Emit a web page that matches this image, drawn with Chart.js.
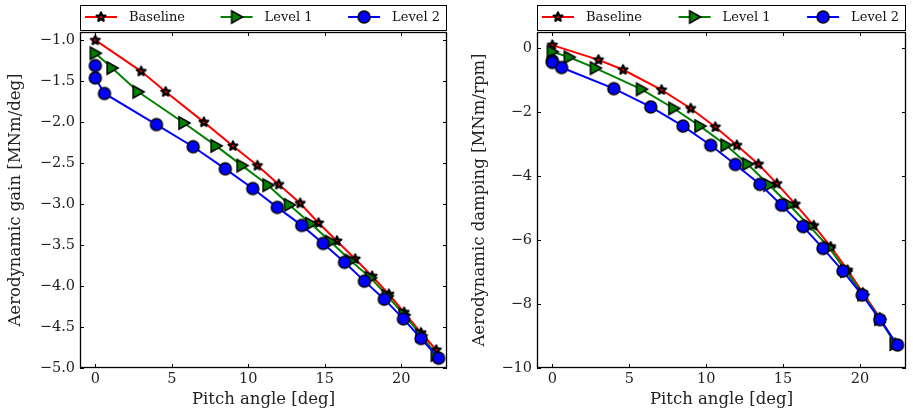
<!DOCTYPE html>
<html>
<head>
<meta charset="utf-8">
<script src="https://cdn.jsdelivr.net/npm/chart.js@4.4.1/dist/chart.umd.min.js"></script>
<style>
  body { margin: 0; width: 913px; height: 413px; overflow: hidden; background: #fff; position: relative; }
  canvas { position: absolute; top: 0; }
  #gainChart { left: 0; }
  #dampChart { left: 455px; }
</style>
</head>
<body>
<canvas id="gainChart" width="455" height="413"></canvas>
<canvas id="dampChart" width="459" height="413"></canvas>
<script>
// pitch angles [deg] per configuration
const pitchBaseline = [0, 3.0, 4.6, 7.1, 9.0, 10.6, 12.0, 13.4, 14.6, 15.8, 17.0, 18.1, 19.2, 20.2, 21.3, 22.3];
const pitchLevel1 = [0, 1.1, 2.8, 5.8, 7.9, 9.6, 11.3, 12.7, 14.1, 15.4, 16.7, 18.0, 19.1, 20.2, 21.3, 22.3];
const pitchLevel2 = [0, 0, 0.6, 4.0, 6.4, 8.5, 10.3, 11.9, 13.5, 14.9, 16.3, 17.6, 18.9, 20.15, 21.3, 22.45];

// aerodynamic gain [MNm/deg]
const gainBaseline = [-1.0, -1.38, -1.63, -2.0, -2.29, -2.53, -2.76, -2.99, -3.23, -3.45, -3.67, -3.88, -4.10, -4.32, -4.57, -4.78];
const gainLevel1 = [-1.16, -1.34, -1.63, -2.01, -2.29, -2.53, -2.77, -3.01, -3.24, -3.46, -3.69, -3.90, -4.12, -4.35, -4.60, -4.84];
const gainLevel2 = [-1.31, -1.46, -1.65, -2.03, -2.30, -2.57, -2.81, -3.04, -3.26, -3.48, -3.71, -3.94, -4.16, -4.40, -4.64, -4.88];

// aerodynamic damping [MNm/rpm]
const dampBaseline = [0.09, -0.37, -0.68, -1.31, -1.89, -2.47, -3.04, -3.63, -4.24, -4.88, -5.55, -6.21, -6.94, -7.65, -8.43, -9.22];
const dampLevel1 = [-0.12, -0.29, -0.63, -1.29, -1.89, -2.44, -3.04, -3.63, -4.28, -4.90, -5.56, -6.24, -6.97, -7.70, -8.47, -9.25];
const dampLevel2 = [-0.40, -0.45, -0.61, -1.27, -1.84, -2.44, -3.04, -3.64, -4.26, -4.91, -5.58, -6.26, -6.97, -7.72, -8.49, -9.28];

const seriesLabels = ['Baseline', 'Level 1', 'Level 2'];
const pitchTicks = [0, 5, 10, 15, 20];
const gainTicks = [-5.0, -4.5, -4.0, -3.5, -3.0, -2.5, -2.0, -1.5, -1.0];
const dampTicks = [-10, -8, -6, -4, -2, 0];

const FONT = '"DejaVu Serif", serif';

// matplotlib-like markers drawn once into small canvases
function makeMarker(kind, fill) {
    const c = document.createElement('canvas');
    c.width = 18; c.height = 18;
    const g = c.getContext('2d');
    g.translate(9, 9);
    g.fillStyle = fill;
    g.strokeStyle = '#000';
    g.lineWidth = 1.5;
    g.beginPath();
    if (kind === 'star') {
        g.lineWidth = 2.2;
        g.lineJoin = 'round';
        for (let i = 0; i < 10; i++) {
            const r = i % 2 ? 2.0 : 4.6;
            const a = -Math.PI / 2 + i * Math.PI / 5;
            g.lineTo(r * Math.cos(a), r * Math.sin(a));
        }
    } else if (kind === 'tri') {
        g.moveTo(6, 0); g.lineTo(-5, -6.2); g.lineTo(-5, 6.2);
    } else {
        g.arc(0, 0, 6, 0, Math.PI * 2);
    }
    g.closePath();
    g.fill();
    g.stroke();
    return c;
}
const markers = [makeMarker('star', '#ff0000'), makeMarker('tri', '#008000'), makeMarker('circle', '#0000ff')];
const colors = ['#ff0000', '#008000', '#0000ff'];

function toPoints(xs, ys) {
    return xs.map((x, i) => ({x: x, y: ys[i]}));
}

function fmt(v, dec) {
    return (v < 0 ? '\u2212' : '') + Math.abs(v).toFixed(dec);
}

// frame, inward ticks on all four sides and the boxed legend
const matplotlibLook = {
    id: 'matplotlibLook',
    afterDraw(chart) {
        const {ctx, chartArea: a, scales} = chart;
        ctx.save();
        ctx.strokeStyle = '#000';
        ctx.lineWidth = 1;
        const seg = (x1, y1, x2, y2) => { ctx.beginPath(); ctx.moveTo(x1, y1); ctx.lineTo(x2, y2); ctx.stroke(); };
        scales.x.ticks.forEach(t => {
            const px = Math.round(scales.x.getPixelForValue(t.value)) + 0.5;
            seg(px, a.bottom, px, a.bottom - 4);
            seg(px, a.top, px, a.top + 4);
        });
        scales.y.ticks.forEach(t => {
            const py = Math.round(scales.y.getPixelForValue(t.value)) + 0.5;
            seg(a.left, py, a.left + 4, py);
            seg(a.right, py, a.right - 4, py);
        });
        ctx.lineWidth = 1.3;
        ctx.strokeRect(a.left + 0.5, a.top + 0.5, a.right - a.left - 1, a.bottom - a.top - 1);

        // legend
        const top = 5, bottom = 30, mid = 17;
        ctx.lineWidth = 1;
        ctx.strokeRect(a.left + 0.5, top + 0.5, a.right - a.left - 1, bottom - top);
        ctx.font = '13px ' + FONT;
        ctx.textBaseline = 'middle';
        const items = chart.data.datasets.map(ds => ({ds: ds, w: 32 + 12 + ctx.measureText(ds.label).width}));
        const inner = a.right - a.left - 12;
        const gap = (inner - items.reduce((s, it) => s + it.w, 0)) / (items.length - 1);
        let x = a.left + 5;
        items.forEach(({ds, w}) => {
            ctx.strokeStyle = ds.borderColor;
            ctx.lineWidth = 2;
            seg(x, mid, x + 32, mid);
            const m = ds.pointStyle;
            ctx.drawImage(m, x + 16 - m.width / 2, mid - m.height / 2);
            ctx.fillStyle = '#111';
            ctx.fillText(ds.label, x + 44, mid + 1);
            x += w + gap;
        });
        ctx.restore();
    }
};

function makeChart(id, yTitle, ys, yMin, yMax, yTicks, yDec, yWidth, padRight, titlePad) {
    const pitches = [pitchBaseline, pitchLevel1, pitchLevel2];
    const datasets = ys.map((vals, i) => ({
        label: seriesLabels[i],
        data: toPoints(pitches[i], vals),
        borderColor: colors[i],
        borderWidth: 2,
        pointStyle: markers[i],
        pointRadius: 6,
        tension: 0,
        fill: false,
        order: 3 - i,
        clip: false
    }));
    return new Chart(document.getElementById(id).getContext('2d'), {
        type: 'line',
        data: {datasets: datasets},
        options: {
            responsive: false,
            animation: false,
            events: [],
            layout: {padding: {top: 32, right: padRight, left: 0, bottom: 0}},
            plugins: {legend: {display: false}, tooltip: {enabled: false}},
            scales: {
                x: {
                    type: 'linear',
                    min: -1,
                    max: 23,
                    grid: {display: false, drawTicks: false},
                    border: {display: false},
                    afterBuildTicks: s => { s.ticks = pitchTicks.map(v => ({value: v})); },
                    afterFit: s => { s.height = 45; },
                    ticks: {color: '#222', padding: 3, font: {family: FONT, size: 14.5}, callback: v => fmt(v, 0)},
                    title: {display: true, text: 'Pitch angle [deg]', color: '#222', font: {family: FONT, size: 16.5}, padding: {top: 0, bottom: 3}}
                },
                y: {
                    type: 'linear',
                    min: yMin,
                    max: yMax,
                    grid: {display: false, drawTicks: false},
                    border: {display: false},
                    afterBuildTicks: s => { s.ticks = yTicks.map(v => ({value: v})); },
                    afterFit: s => { s.width = yWidth; },
                    ticks: {color: '#222', padding: 5, font: {family: FONT, size: 14.5}, callback: v => fmt(v, yDec)},
                    title: {display: true, text: yTitle, color: '#222', font: {family: FONT, size: 16.5}, padding: {top: titlePad, bottom: 0}}
                }
            }
        },
        plugins: [matplotlibLook]
    });
}

makeChart('gainChart', 'Aerodynamic gain [MNm/deg]', [gainBaseline, gainLevel1, gainLevel2],
    -5, -0.9, gainTicks, 1, 80, 4, 6);
makeChart('dampChart', 'Aerodynamic damping [MNm/rpm]', [dampBaseline, dampLevel1, dampLevel2],
    -10, 0.5, dampTicks, 0, 82, 1, 15);
</script>
</body>
</html>
